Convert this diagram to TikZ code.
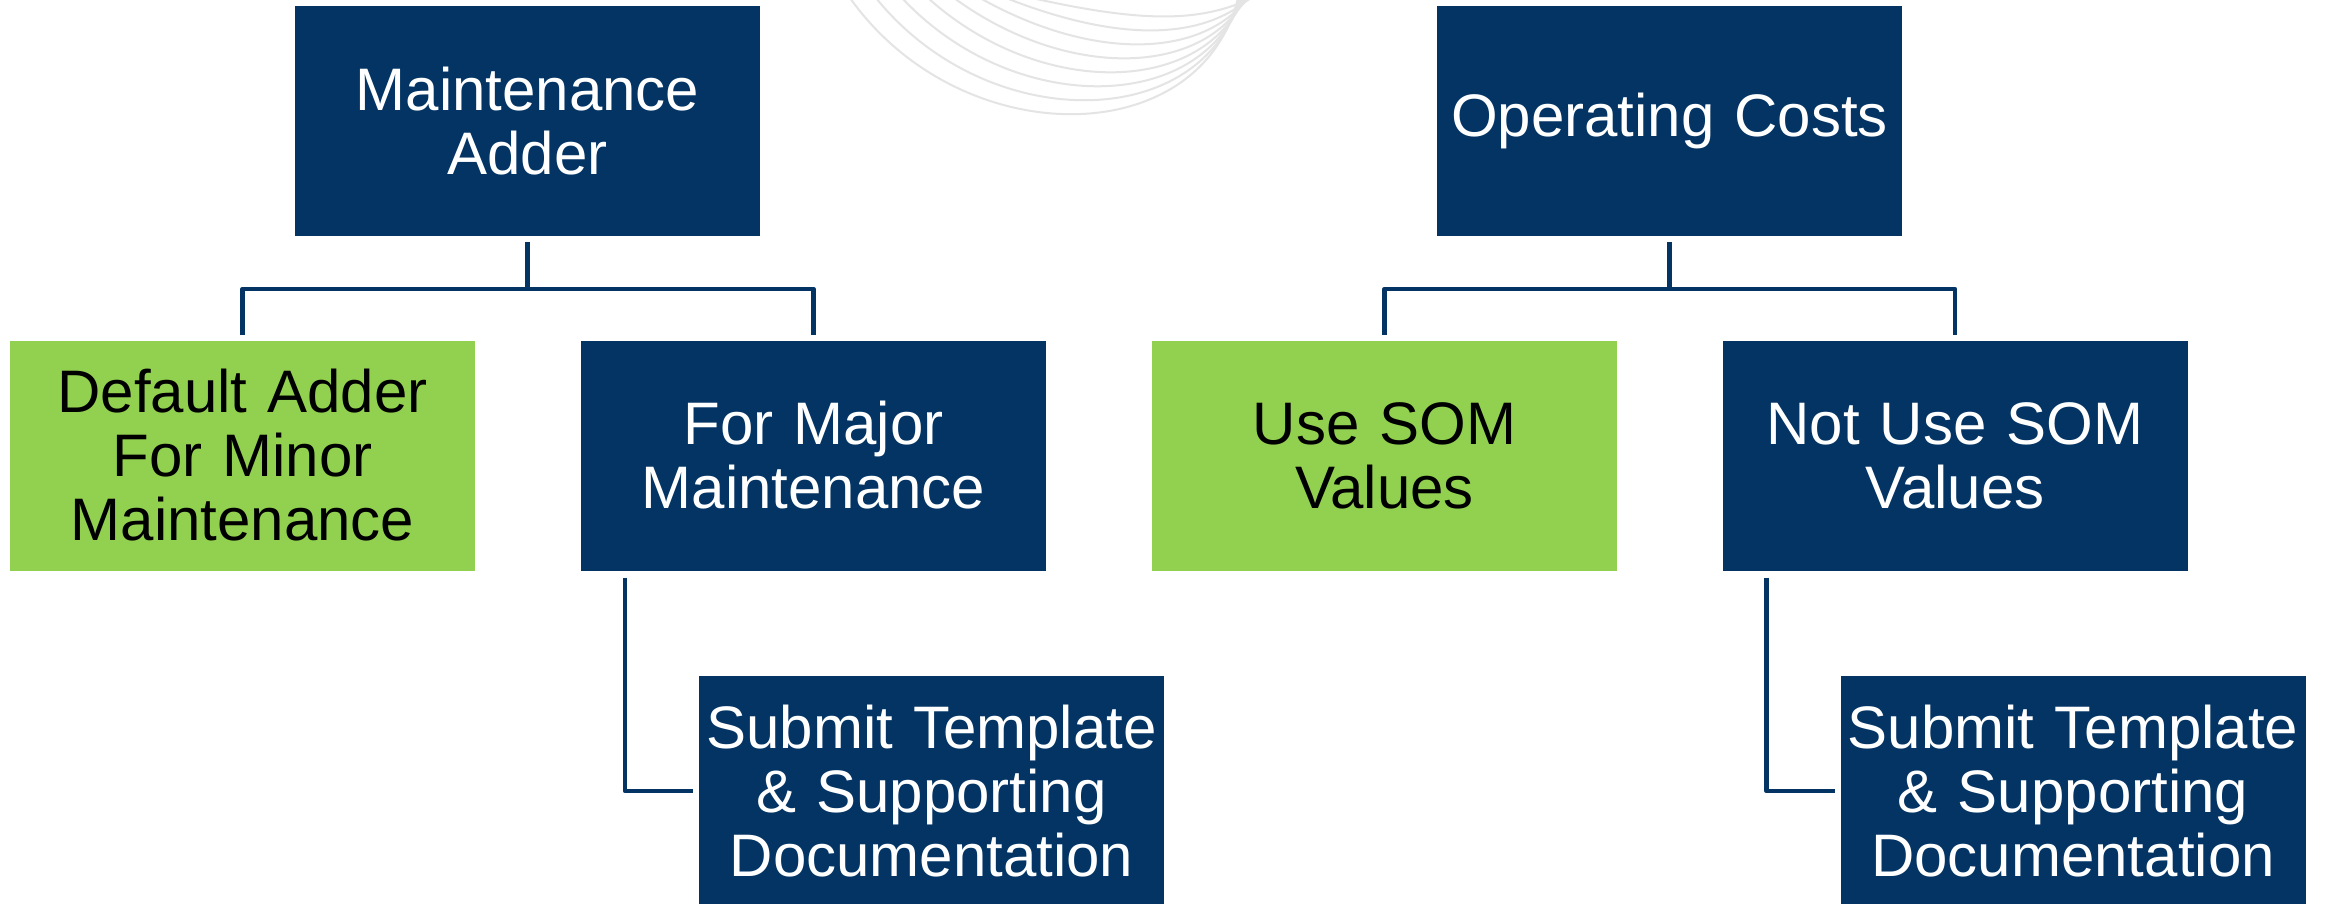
\documentclass[tikz,border=0pt]{standalone}
\usepackage{fontspec}
\setmainfont{Liberation Sans}
\definecolor{navy}{RGB}{3,52,100}
\definecolor{leaf}{RGB}{146,208,80}
\definecolor{decogray}{RGB}{228,228,228}
\begin{document}
\begin{tikzpicture}[x=0.5pt,y=-0.5pt,
  box/.style={rectangle, inner sep=0pt, outer sep=0pt, minimum width=232.5pt,
    minimum height=115pt, text width=232pt, align=center,
    font=\fontsize{30}{32}\selectfont},
  darkbox/.style={box, fill=navy, text=white},
  greenbox/.style={box, fill=leaf, text=black},
  conn/.style={draw=navy, line width=2.25pt, line join=round},
  deco/.style={draw=decogray, line width=1pt}]
\useasboundingbox (0,0) rectangle (2328,904);
\fill[white] (0,0) rectangle (2328,904);
% decorative curves
\foreach \k in {0,...,7} {
  \pgfmathsetmacro\xl{850+26*\k}
  \pgfmathsetmacro\yb{115-14*\k}
  \draw[deco] (\xl,-2) .. controls (\xl+110,1.33*\yb) and (1200,1.33*\yb) .. (1238+2*\k,-2);
}
% nodes
\node[darkbox] (ma) at (527.5,121) {Maintenance\\Adder};
\node[darkbox] (oc) at (1669.5,121) {Operating Costs};
\node[greenbox] (da) at (242.5,455.5) {Default Adder\\For Minor\\Maintenance};
\node[darkbox] (fm) at (813.5,455.5) {For Major\\Maintenance};
\node[greenbox] (us) at (1384.5,455.5) {Use SOM\\Values};
\node[darkbox] (nu) at (1955,455.5) {Not Use SOM\\Values};
\node[darkbox] (st1) at (931.5,791) {Submit Template\\\& Supporting\\Documentation};
\node[darkbox] (st2) at (2073,791) {Submit Template\\\& Supporting\\Documentation};
% bars
\coordinate (mabar) at (527.5,289);
\coordinate (ocbar) at (1669.5,289);
\draw[conn] ([yshift=-3pt]ma.south) -- (mabar);
\draw[conn] ([yshift=3pt]da.north) |- (mabar) -| ([yshift=3pt]fm.north);
\draw[conn] ([yshift=-3pt]oc.south) -- (ocbar);
\draw[conn] ([yshift=3pt]us.north) |- (ocbar) -| ([yshift=3pt]nu.north);
% elbows
\draw[conn] ([shift={(44,7)}]fm.south west) |- ([xshift=-3pt]st1.west);
\draw[conn] ([shift={(44,7)}]nu.south west) |- ([xshift=-3pt]st2.west);
\end{tikzpicture}
\end{document}
